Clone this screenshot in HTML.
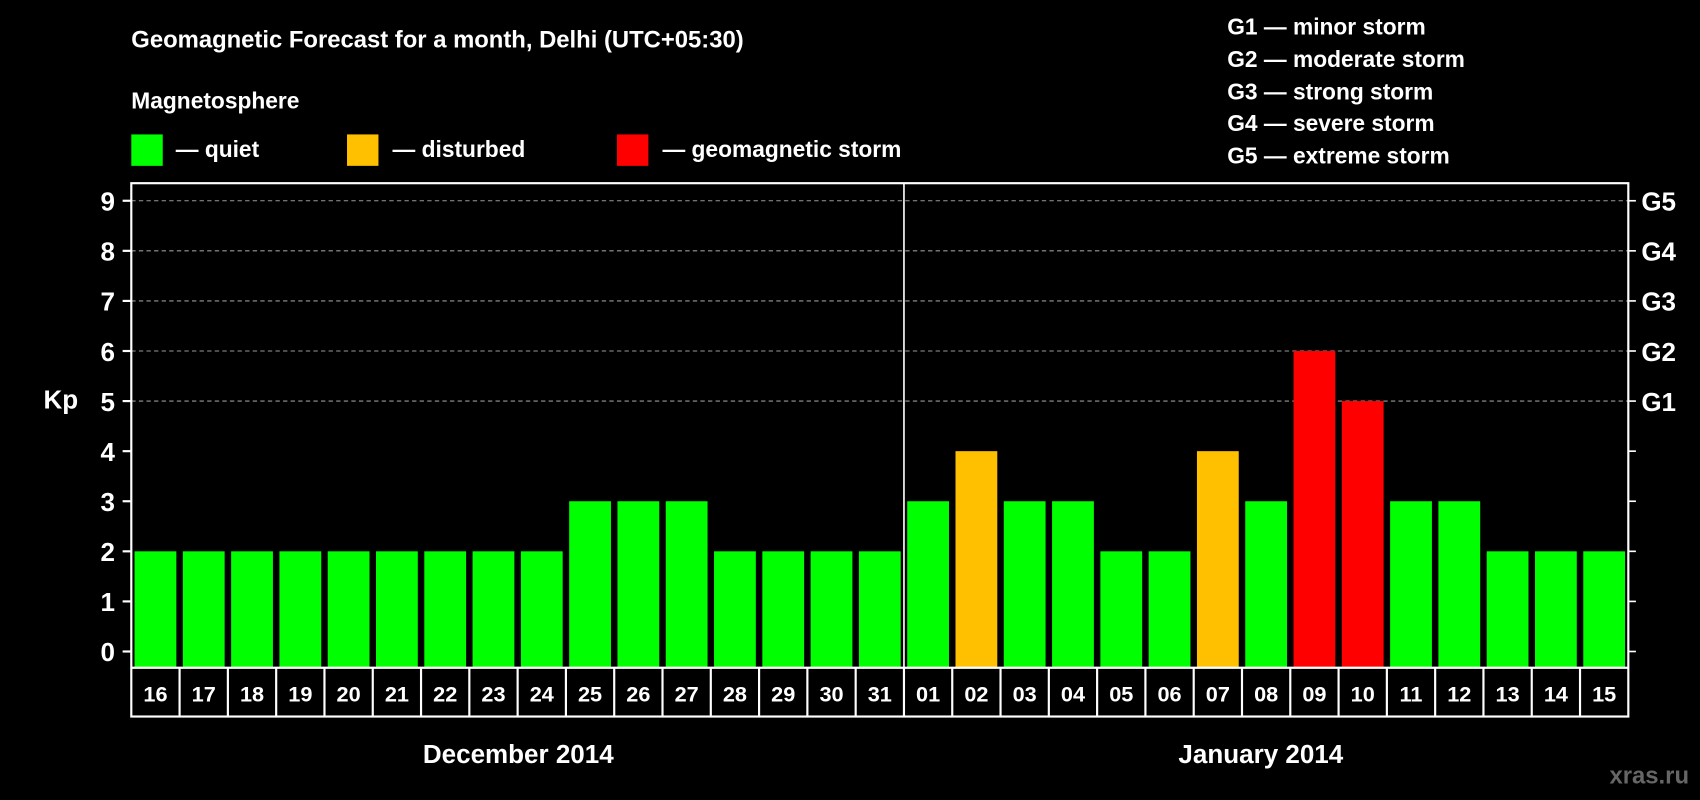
<!DOCTYPE html>
<html><head><meta charset="utf-8"><style>
html,body{margin:0;padding:0;background:#000;width:1700px;height:800px;overflow:hidden}
svg text{font-family:"Liberation Sans",sans-serif;font-weight:bold;fill:#fff}
</style></head><body>
<svg id="chart" width="1700" height="800" viewBox="0 0 1568 738" xmlns="http://www.w3.org/2000/svg">
<rect width="1568" height="738" fill="#000"/>
<text x="121" y="44" font-size="22">Geomagnetic Forecast for a month, Delhi (UTC+05:30)</text>
<text x="121" y="100" font-size="21">Magnetosphere</text>
<rect x="121" y="124" width="29" height="29" fill="#00ff00"/>
<text x="162" y="145" font-size="21">— quiet</text>
<rect x="320" y="124" width="29" height="29" fill="#ffc000"/>
<text x="362" y="145" font-size="21">— disturbed</text>
<rect x="569" y="124" width="29" height="29" fill="#ff0000"/>
<text x="611" y="145" font-size="21">— geomagnetic storm</text>
<g font-size="21">
<text x="1132" y="32">G1 — minor storm</text>
<text x="1132" y="62">G2 — moderate storm</text>
<text x="1132" y="92">G3 — strong storm</text>
<text x="1132" y="121">G4 — severe storm</text>
<text x="1132" y="151">G5 — extreme storm</text>
</g>
<text x="40" y="377" font-size="24">Kp</text>
<g id="grid"></g>
<g id="bars"></g>
<g id="axes"></g>
<text x="478" y="704" font-size="24" text-anchor="middle">December 2014</text>
<text x="1163" y="704" font-size="24" text-anchor="middle">January 2014</text>
<text x="1558" y="723" font-size="22" text-anchor="end" style="fill:#666">xras.ru</text>
</svg>
<script>
const days = ["16","17","18","19","20","21","22","23","24","25","26","27","28","29","30","31","01","02","03","04","05","06","07","08","09","10","11","12","13","14","15"];
const kpValues = [2,2,2,2,2,2,2,2,2,3,3,3,2,2,2,2,3,4,3,3,2,2,4,3,6,5,3,3,2,2,2];
const yTicks = [0,1,2,3,4,5,6,7,8,9];
const gLabels = {5:"G1",6:"G2",7:"G3",8:"G4",9:"G5"};
const NS = "http://www.w3.org/2000/svg";
const L=121,R=1502,T=169,B=616,LB=661;
const y = v => 601 - v*46.2;
const slot = (R-L)/days.length;
const x = i => L + i*slot;
function mk(tag, attrs, parent){const e=document.createElementNS(NS,tag);for(const k in attrs)e.setAttribute(k,attrs[k]);parent.appendChild(e);return e;}
const grid=document.getElementById('grid'), bars=document.getElementById('bars'), axes=document.getElementById('axes');
yTicks.forEach(v=>{
  if(v>=5){const g=mk('line',{x1:L,x2:R,y1:y(v),y2:y(v),stroke:'#999','stroke-dasharray':'4,3','stroke-width':1},grid);
    
    }
  const t=mk('line',{x1:L-8,x2:L,y1:y(v),y2:y(v),stroke:'#fff','stroke-width':2},axes);
  
  
  const t2=mk('line',{x1:R,x2:R+7,y1:y(v),y2:y(v),stroke:'#fff','stroke-width':1.5},axes);
  
  
  const lb=mk('text',{x:106,y:y(v)+9,'font-size':24,'text-anchor':'end'},axes);
  lb.textContent=v;
  
  
  if(gLabels[v]){const g=mk('text',{x:1514,y:y(v)+9,'font-size':24},axes);g.textContent=gLabels[v];
    
    }
});
kpValues.forEach((v,i)=>{
  const c=v>=5?'#ff0000':(v>=4?'#ffc000':'#00ff00');
  const b=mk('rect',{x:x(i)+3,y:y(v),width:slot-6,height:B-y(v),fill:c},bars);
  
  
  const lb=mk('text',{x:x(i)+slot/2,y:647,'font-size':20,'text-anchor':'middle'},axes);
  lb.textContent=days[i];
  
  
  if(i>0){const s=mk('line',{x1:x(i),x2:x(i),y1:B,y2:LB,stroke:'#fff','stroke-width':2},axes);
    
    }
});
const fr=mk('rect',{x:L,y:T,width:R-L,height:LB-T,fill:'none',stroke:'#fff','stroke-width':2},axes);


const hl=mk('line',{x1:L,x2:R,y1:B,y2:B,stroke:'#fff','stroke-width':2},axes);


const ms=mk('line',{x1:x(16),x2:x(16),y1:T,y2:B,stroke:'#fff','stroke-width':1.5},axes);


</script>
</body></html>
